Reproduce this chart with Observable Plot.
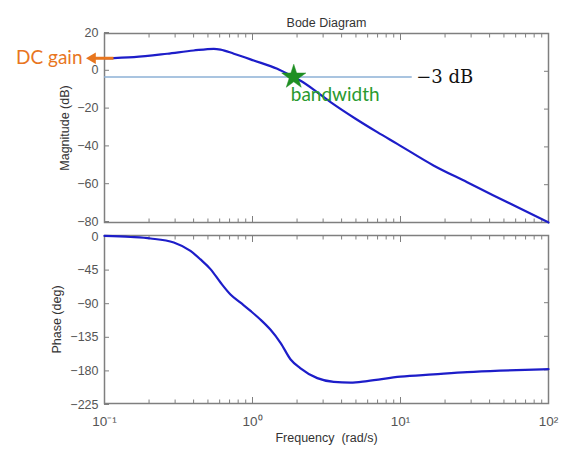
<!DOCTYPE html>
<html>
<head>
<meta charset="utf-8">
<script src="https://cdn.jsdelivr.net/npm/d3@7"></script>
<script src="https://cdn.jsdelivr.net/npm/@observablehq/plot@0.6"></script>
<style>
  body { margin: 0; background: #fff; }
  #fig { position: relative; width: 565px; height: 450px; }
  #fig svg { position: absolute; left: 0; top: 0; }
</style>
</head>
<body>
<div id="fig"></div>
<script>
// Magnitude response: frequency (rad/s) and gain (dB)
const magFreq = [0.1, 0.158, 0.265, 0.40, 0.548, 0.608, 0.748, 1.02, 1.47, 1.9, 2.1, 2.74, 3.37, 4.97, 6.97, 9.5, 16.7, 28.2, 42.5, 100];
const magDb   = [6.9, 7.5, 9.3, 11.0, 11.9, 11.5, 9.3, 5.7, 1.3, -3.1, -4.9, -11.1, -16.3, -25.1, -32.2, -38.4, -49.8, -58.7, -65.7, -80];

// Phase response: frequency (rad/s) and phase (deg)
const phaseFreq = [0.1, 0.15, 0.205, 0.294, 0.381, 0.445, 0.52, 0.608, 0.71, 0.83, 0.97, 1.13, 1.32, 1.55, 1.81, 2.1, 2.74, 3.54, 4.6, 5.95, 10, 16.7, 28.2, 47, 100];
const phaseDeg  = [-0.5, -2, -4, -9.4, -20.7, -32, -45, -63, -79, -90, -101, -112.5, -126, -144, -166, -177.5, -191, -196, -197, -195, -189, -186, -183, -181, -179];

// Axis ticks
const freqMajor = [0.1, 1, 10, 100];
const freqMinor = [0.2, 0.3, 0.4, 0.5, 0.6, 0.7, 0.8, 0.9, 2, 3, 4, 5, 6, 7, 8, 9, 20, 30, 40, 50, 60, 70, 80, 90];
const magTicks = [-80, -60, -40, -20, 0, 20];
const phaseTicks = [-225, -180, -135, -90, -45, 0];
const supDigits = {"-": "\u207B", "0": "\u2070", "1": "\u00B9", "2": "\u00B2", "3": "\u00B3"};

// Annotations
const dcGainDb = [6.9];
const dcArrowFreq = [0.115, 0.083];   // shaft start, head position
const cutoffDb = [-3];
const cutoffFreq = [0.1, 12];         // extent of the -3 dB reference line
const bandwidthFreq = [1.9];

const W = 565, H = 450;
const mL = 104, mR = 17;
const frameGray = "#7f7f7f";
const curveBlue = "#1d1dc9";
const orange = "#e8761e";
const green = "#1f8f23";

const md = magFreq.map((f, i) => ({f, v: magDb[i]}));
const pd = phaseFreq.map((f, i) => ({f, v: phaseDeg[i]}));

const baseStyle = {
  fontFamily: '"Liberation Sans", Arial, sans-serif',
  fontSize: "12.5px",
  color: "#555",
  background: "transparent",
  overflow: "visible"
};
const blank = () => "";
const powFmt = d => "10" + String(Math.round(Math.log10(d))).split("").map(c => supDigits[c]).join("");

// Boxed frame with inward ticks on all four sides; labels on the left (and bottom if asked)
function frameTicks(yTicks, withXLabels, labelShift) {
  return [
    Plot.axisY(yTicks, {anchor: "left", tickSize: -5, tickPadding: 11, dy: labelShift, label: null, stroke: frameGray}),
    Plot.axisY(yTicks, {anchor: "right", tickSize: -5, tickFormat: blank, label: null, stroke: frameGray}),
    Plot.axisX(freqMinor, {anchor: "top", tickSize: -3.5, tickFormat: blank, label: null, stroke: frameGray}),
    Plot.axisX(freqMajor, {anchor: "top", tickSize: -6, tickFormat: blank, label: null, stroke: frameGray}),
    Plot.axisX(freqMinor, {anchor: "bottom", tickSize: -3.5, tickFormat: blank, label: null, stroke: frameGray}),
    Plot.axisX(freqMajor, {anchor: "bottom", tickSize: -6, tickPadding: withXLabels ? 19 : 0,
      tickFormat: withXLabels ? powFmt : blank, label: null, stroke: frameGray, fontSize: 13.5}),
    Plot.frame({stroke: frameGray, strokeWidth: 1.5})
  ];
}

const xScale = {type: "log", domain: [0.1, 100]};

// Magnitude panel
const magPlot = Plot.plot({
  width: W, height: H,
  marginLeft: mL, marginRight: mR, marginTop: 33, marginBottom: 228,
  x: xScale,
  y: {domain: [-80, 20]},
  style: baseStyle,
  marks: [
    ...frameTicks(magTicks, false, -1),
    Plot.ruleY(cutoffDb, {x1: () => cutoffFreq[0], x2: () => cutoffFreq[1], stroke: "#8db0d6", strokeWidth: 1.6}),
    Plot.line(md, {x: "f", y: "v", stroke: curveBlue, strokeWidth: 2.2, curve: "monotone-x"}),
    Plot.link(dcGainDb, {x1: () => dcArrowFreq[0], x2: () => dcArrowFreq[1], y1: d => d, y2: d => d,
      stroke: orange, strokeWidth: 3}),
    Plot.dot(dcGainDb, {x: () => dcArrowFreq[1], y: d => d, symbol: "triangle", r: 4.2, rotate: -90, fill: orange}),
    Plot.text(["DC gain"], {x: () => dcArrowFreq[1], y: () => dcGainDb[0], dx: -10, textAnchor: "end",
      fill: orange, fontFamily: "Lato, 'Open Sans', sans-serif", fontSize: 19}),
    Plot.dot(bandwidthFreq, {x: d => d, y: () => cutoffDb[0], symbol: "star", r: 7.6, fill: green, stroke: green, strokeWidth: 0.5}),
    Plot.text(["bandwidth"], {x: () => bandwidthFreq[0], y: () => cutoffDb[0], dx: -3, dy: 18, textAnchor: "start",
      fill: "#2a9a2e", fontFamily: "Lato, 'Open Sans', sans-serif", fontSize: 19}),
    Plot.text(["\u22123 dB"], {x: () => cutoffFreq[1], y: () => cutoffDb[0], dx: 4, textAnchor: "start",
      fill: "#111", fontFamily: "'DejaVu Serif', serif", fontSize: 18}),
    Plot.text(["Bode Diagram"], {frameAnchor: "top", dy: -15, fill: "#333", fontSize: 12.5}),
    Plot.text(["Magnitude (dB)"], {frameAnchor: "left", dx: -40, rotate: -90, textAnchor: "middle",
      fill: "#333", fontSize: 12.5})
  ]
});

// Phase panel
const phasePlot = Plot.plot({
  width: W, height: H,
  marginLeft: mL, marginRight: mR, marginTop: 235, marginBottom: 47,
  x: xScale,
  y: {domain: [-225, 0]},
  style: baseStyle,
  marks: [
    ...frameTicks(phaseTicks, true, 1),
    Plot.line(pd, {x: "f", y: "v", stroke: curveBlue, strokeWidth: 2.2, curve: "monotone-x"}),
    Plot.text(["Phase (deg)"], {frameAnchor: "left", dx: -48, rotate: -90, textAnchor: "middle",
      fill: "#333", fontSize: 12.5}),
    Plot.text(["Frequency\u00A0 (rad/s)"], {frameAnchor: "bottom", dy: 38, fill: "#333", fontSize: 12.5})
  ]
});

const fig = document.getElementById("fig");
fig.appendChild(phasePlot);
fig.appendChild(magPlot);
</script>
</body>
</html>
